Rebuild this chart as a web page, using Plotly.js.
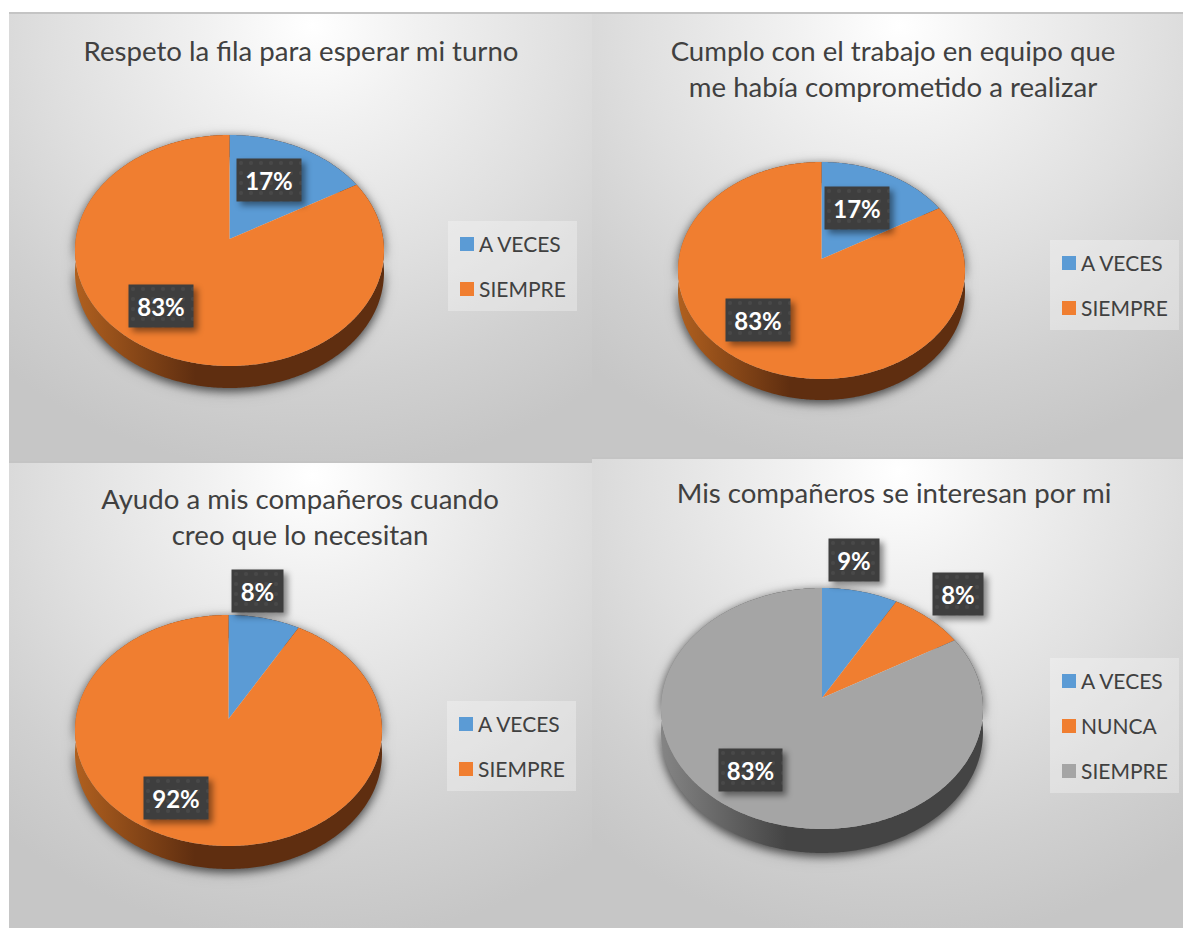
<!DOCTYPE html>
<html><head><meta charset="utf-8">
<script src="https://cdn.plot.ly/plotly-3.0.1.min.js"></script>
<style>
html,body{margin:0;padding:0;background:#fff;width:1183px;height:928px;overflow:hidden}
.panel{position:absolute;background:radial-gradient(ellipse 82% 100% at 52% 3%,#ffffff 0%,#f1f1f1 22%,#dfdfdf 55%,#d0d0d0 80%,#c6c6c6 100%);box-shadow:inset 0 2px 0 #c4c4c4}
</style></head><body>
<svg width="0" height="0" style="position:absolute"><defs id="defs">
<pattern id="dots" width="10" height="10" patternUnits="userSpaceOnUse">
<rect width="10" height="10" fill="#3e3e3e"/><circle cx="5" cy="5" r="2" fill="#484848"/></pattern>
</defs></svg>
<div id="c1" class="panel"></div><div id="c2" class="panel"></div><div id="c3" class="panel"></div><div id="c4" class="panel"></div>
<script>
// ---- data ----
const titleA = "Respeto la fila para esperar mi turno";
const titleB = "Cumplo con el trabajo en equipo que<br>me había comprometido a realizar";
const titleC = "Ayudo a mis compañeros cuando<br>creo que lo necesitan";
const titleD = "Mis compañeros se interesan por mi";
const labelsA = ["A VECES","SIEMPRE"];
const labelsB = ["A VECES","SIEMPRE"];
const labelsC = ["A VECES","SIEMPRE"];
const labelsD = ["A VECES","NUNCA","SIEMPRE"];
const valuesA = [16.7,83.3];
const valuesB = [16.7,83.3];
const valuesC = [8.3,91.7];
const valuesD = [8.3,8.3,83.4];
const percentA = ["17%","83%"];
const percentB = ["17%","83%"];
const percentC = ["8%","92%"];
const percentD = ["9%","8%","83%"];
const colorsTwo = ["#5b9bd5","#f07e30"];
const colorsThree = ["#5b9bd5","#f07e30","#a5a5a5"];

// ---- layout of each panel (pixels on the page) ----
const FONT = "Lato, 'Open Sans', sans-serif";
const charts = [
 {id:"c1",title:titleA,labels:labelsA,values:valuesA,percent:percentA,colors:colorsTwo,
  panel:[9,12,583,449],titleXY:[301,42],apex:[229.5,239],top:135,bottom:366,R:154.5,depth:22,
  legend:[448,221,129,90],boxes:[[237,159,64,42],[129,285,64,42]],wall:["#b0601f","#5f2e10"]},
 {id:"c2",title:titleB,labels:labelsB,values:valuesB,percent:percentB,colors:colorsTwo,
  panel:[592,12,591,445],titleXY:[893,61],apex:[821.5,259],top:162,bottom:379,R:143.5,depth:21,
  legend:[1050,240,129,90],boxes:[[825,187,64,42],[726,299,64,42]],wall:["#b0601f","#5f2e10"]},
 {id:"c3",title:titleC,labels:labelsC,values:valuesC,percent:percentC,colors:colorsTwo,
  panel:[9,461,583,467],titleXY:[300,509],apex:[228.5,719],top:615,bottom:846,R:153.5,depth:23,
  legend:[447,701,129,90],boxes:[[232,570,51,42],[144,777,64,42]],wall:["#b0601f","#5f2e10"]},
 {id:"c4",title:titleD,labels:labelsD,values:valuesD,percent:percentD,colors:colorsThree,
  panel:[592,457,591,471],titleXY:[894,484],apex:[822,698],top:588,bottom:829,R:161,depth:24,
  legend:[1050,658,129,135],boxes:[[829,539,50,42],[933,573,50,42],[719,749,63,42]],wall:["#858585","#444444"]}
];

function project(c,th){
  const up=c.apex[1]-c.top, dn=c.bottom-c.apex[1];
  const k=(up-dn)/(up+dn), b=up*(1-k), a=c.R*Math.sqrt(1-k*k);
  const u=Math.sin(th), v=-Math.cos(th), w=1+k*v;
  return [c.apex[0]+a*u/w, c.apex[1]+b*v/w];
}
function arc(c,t0,t1){
  const n=Math.max(2,Math.ceil((t1-t0)*90)), pts=[];
  for(let i=0;i<=n;i++) pts.push(project(c,t0+(t1-t0)*i/n));
  return pts;
}
function toPath(p){return "M"+p.map(q=>q[0].toFixed(2)+","+q[1].toFixed(2)).join("L")+"Z";}

async function draw(c,idx){
  const el=document.getElementById(c.id), [px,py,pw,ph]=c.panel;
  Object.assign(el.style,{left:px+"px",top:py+"px",width:pw+"px",height:ph+"px"});
  const dom={x:[(c.apex[0]-c.R-px)/pw,(c.apex[0]+c.R-px)/pw],
             y:[1-(c.bottom-py)/ph,1-(c.top-py)/ph]};
  const base={type:"pie",labels:c.labels,values:c.values,sort:false,direction:"clockwise",rotation:0,
    textinfo:"none",domain:dom,marker:{colors:c.colors,line:{width:0}}};
  const traces=[Object.assign({},base,{showlegend:false,name:"lado"}),Object.assign({},base,{showlegend:true,name:"cara"})];
  const anns=c.percent.map((t,i)=>{
    const b=c.boxes[i];
    return {xref:"paper",yref:"paper",x:(b[0]+b[2]/2-px)/pw,y:1-(b[1]+b[3]/2-py)/ph,xanchor:"center",yanchor:"middle",
      text:"<b>"+t+"</b>",showarrow:false,width:b[2],height:b[3],borderpad:0,bgcolor:"#3e3e3e",
      font:{family:FONT,size:24,color:"#ffffff"}};
  });
  const layout={width:pw,height:ph,margin:{l:0,r:0,t:0,b:0},paper_bgcolor:"rgba(0,0,0,0)",plot_bgcolor:"rgba(0,0,0,0)",
    font:{family:FONT},
    title:{text:c.title,font:{family:FONT,size:27.6,color:"#404040"},xref:"paper",yref:"container",
      x:(c.titleXY[0]-px)/pw,xanchor:"center",y:1-(c.titleXY[1]-py)/ph,yanchor:"top"},
    showlegend:true,
    legend:{x:(c.legend[0]-px)/pw,y:1-(c.legend[1]-py)/ph,xanchor:"left",yanchor:"top",
      bgcolor:"rgba(255,255,255,0.3)",font:{family:FONT,size:21,color:"#404040"},borderwidth:0},
    annotations:anns};
  await Plotly.newPlot(el,traces,layout,{staticPlot:true,displayModeBar:false});

  // perspective view of the slices Plotly drew
  const defs=document.getElementById("defs");
  const gid="wall"+idx;
  const lg=document.createElementNS("http://www.w3.org/2000/svg","linearGradient");
  lg.setAttribute("id",gid);lg.setAttribute("gradientUnits","userSpaceOnUse");
  lg.setAttribute("y1",0);lg.setAttribute("y2",0);
  lg.innerHTML='<stop offset="0" stop-color="'+c.wall[0]+'"/><stop offset="1" stop-color="'+c.wall[1]+'"/>';
  defs.appendChild(lg);
  const total=c.values.reduce((s,v)=>s+v,0);
  const groups=el.querySelectorAll(".pielayer .trace");
  const local=[c.apex[0]-px,c.apex[1]-py];
  const cL=Object.assign({},c,{apex:local,top:c.top-py,bottom:c.bottom-py});
  lg.setAttribute("x1",local[0]-c.R);lg.setAttribute("x2",local[0]-c.R*0.22);
  [0,1].forEach(g=>{
    let acc=0;
    groups[g].querySelectorAll(".slice path.surface").forEach((path,i)=>{
      const t0=acc/total*2*Math.PI; acc+=c.values[i]; const t1=acc/total*2*Math.PI;
      const pts=arc(cL,t0,t1);
      if(g===1){ path.setAttribute("d",toPath([local].concat(pts))); }
      else{
        const low=pts.slice().reverse().map(q=>[q[0],q[1]+c.depth]);
        path.setAttribute("d",toPath(pts.concat(low)));
        path.style.fill="url(#"+gid+")";
      }
    });
  });
  groups[0].style.filter="drop-shadow(0 3px 4px rgba(0,0,0,.5)) drop-shadow(0 2px 6px rgba(0,0,0,.3))";

  // label boxes
  el.querySelectorAll(".annotation-text-g rect.bg, .annotation rect.bg").forEach(r=>{
    r.style.fill="url(#dots)";
    r.style.filter="drop-shadow(4px 4px 3px rgba(0,0,0,.45))";
  });

  // legend to the reference's spacing
  const leg=el.querySelector(".legend");
  const bg=leg.querySelector("rect.bg");
  bg.setAttribute("width",c.legend[2]);bg.setAttribute("height",c.legend[3]);
  const sb=leg.querySelector(".scrollbox"); if(sb) sb.removeAttribute("clip-path");
  leg.removeAttribute("clip-path");
  leg.querySelectorAll(".traces").forEach((t,i)=>{
    t.setAttribute("transform","translate(0,"+(23+45*i)+")");
    const sw=t.querySelector(".legendpie");
    if(sw){sw.setAttribute("d","M-7,-7H7V7H-7Z");sw.setAttribute("transform","translate(19,0)");sw.style.strokeWidth=0;}
    const tx=t.querySelector(".legendtext"); if(tx){tx.setAttribute("x",31);}
  });
}
Promise.all(charts.map(draw));
</script>
</body></html>
